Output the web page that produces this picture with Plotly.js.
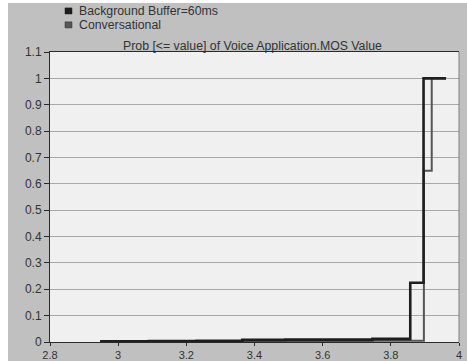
<!DOCTYPE html>
<html>
<head>
<meta charset="utf-8">
<script src="https://cdn.plot.ly/plotly-3.0.1.min.js"></script>
<style>
html,body{margin:0;padding:0;background:#ffffff;}
#chart{position:absolute;left:8px;top:3px;width:459px;height:358px;}
</style>
</head>
<body>
<div id="chart"></div>
<script>
// Data
const seriesNames = ["Background Buffer=60ms", "Conversational"];
const bufferX = [2.947, 3.09, 3.23, 3.364, 3.49, 3.746, 3.857, 3.896, 3.962];
const bufferY = [0.003, 0.004, 0.005, 0.008, 0.009, 0.012, 0.225, 1.0, 1.0];
const convX = [2.947, 3.23, 3.49, 3.746, 3.897, 3.92, 3.962];
const convY = [0.002, 0.003, 0.004, 0.005, 0.65, 1.0, 1.0];
const xTicks = [2.8, 3, 3.2, 3.4, 3.6, 3.8, 4];
const yTicks = [0, 0.1, 0.2, 0.3, 0.4, 0.5, 0.6, 0.7, 0.8, 0.9, 1, 1.1];
const titleText = "Prob [<= value] of Voice Application.MOS Value";
const colors = ["#1e1e1e", "#555555"];

const font = {family: "Liberation Sans, Arial, sans-serif", size: 12, color: "#333333"};
const xFont = {family: font.family, size: 11, color: "#333333"};

const traces = [
  {x: convX, y: convY, mode: "lines", line: {shape: "hv", color: colors[1], width: 2}, showlegend: false, hoverinfo: "skip"},
  {x: bufferX, y: bufferY, mode: "lines", line: {shape: "hv", color: colors[0], width: 2.6}, showlegend: false, hoverinfo: "skip"}
];

const layout = {
  width: 459, height: 358,
  margin: {l: 42, r: 8, t: 49, b: 19, pad: 0},
  paper_bgcolor: "#c0c0c0",
  plot_bgcolor: "#f0f0f0",
  font: font,
  showlegend: false,
  title: {text: titleText, x: 0.495, xref: "paper", xanchor: "center", y: 1, yref: "paper", yanchor: "bottom", pad: {b: 2}, font: {family: font.family, size: 12.3, color: "#333333"}},
  xaxis: {
    range: [2.8, 4], tickvals: xTicks, ticktext: xTicks.map(String),
    showgrid: false, zeroline: false,
    showline: true, linecolor: "#2a2a2a", linewidth: 1, mirror: true,
    ticks: "outside", ticklen: 3, tickcolor: "#2a2a2a", tickfont: xFont
  },
  yaxis: {
    range: [0, 1.1], tickvals: yTicks, ticktext: yTicks.map(String),
    showgrid: true, gridcolor: "#a8a8a8", gridwidth: 1, zeroline: false,
    showline: true, linecolor: "#2a2a2a", linewidth: 1,
    ticks: "outside", ticklen: 5, tickcolor: "#2a2a2a", tickfont: font
  },
  shapes: [
    {type: "line", xref: "paper", yref: "paper", x0: 1, x1: 1, y0: 0, y1: 1, line: {color: "#808080", width: 1}},
    {type: "rect", xref: "paper", yref: "paper", x0: 0.0367, x1: 0.0538, y0: 1.131, y1: 1.152, fillcolor: colors[0], line: {color: colors[0], width: 0.5}},
    {type: "rect", xref: "paper", yref: "paper", x0: 0.0367, x1: 0.0538, y0: 1.083, y1: 1.104, fillcolor: colors[1], line: {color: "#333333", width: 0.5}}
  ],
  annotations: [
    {text: seriesNames[0], xref: "paper", yref: "paper", x: 0.066, y: 1.1415, xanchor: "left", yanchor: "middle", showarrow: false, font: {family: font.family, size: 12.3, color: "#333333"}},
    {text: seriesNames[1], xref: "paper", yref: "paper", x: 0.066, y: 1.0935, xanchor: "left", yanchor: "middle", showarrow: false, font: {family: font.family, size: 12.3, color: "#333333"}}
  ]
};

Plotly.newPlot("chart", traces, layout, {displayModeBar: false, staticPlot: true});
</script>
</body>
</html>
